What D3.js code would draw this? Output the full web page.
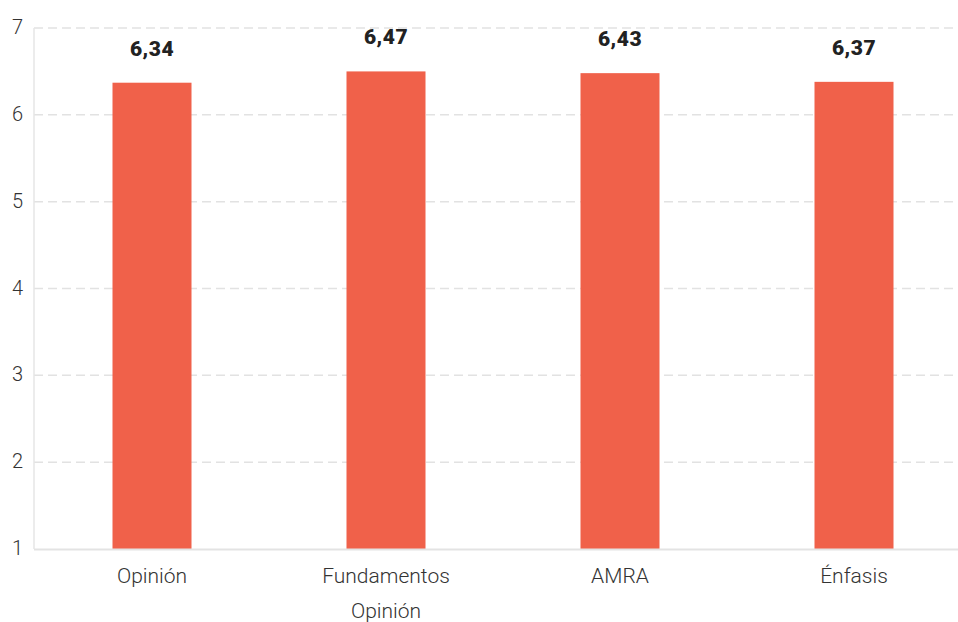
<!DOCTYPE html>
<html>
<head>
<meta charset="utf-8">
<script src="https://cdn.jsdelivr.net/npm/d3@7"></script>
<style>
	body { margin: 0; background: #fff; }
	svg { display: block; }
</style>
</head>
<body>
<svg id="chart" width="958" height="622"></svg>
<script>
// data
const categories = [['Opinión'], ['Fundamentos', 'Opinión'], ['AMRA'], ['Énfasis']];
const barValues = [6.37, 6.50, 6.48, 6.38];
const valueLabels = ['6,34', '6,47', '6,43', '6,37'];
const yTicks = [1, 2, 3, 4, 5, 6, 7];

const width = 958;
const height = 622;

const svg = d3.select('#chart');

// X axis
let x = d3.scaleBand()
	.domain(categories.map((d, i) => i))
	.range([35, 971])
	.paddingInner(0.6624)
	.paddingOuter(0.3312);

// Y axis
let y = d3.scaleLinear()
	.domain([1, 7])
	.range([549, 28]);

// grid
svg.append('g')
	.selectAll('line')
	.data(yTicks.filter(d => d > 1))
	.enter()
	.append('line')
	.attr('x1', 34)
	.attr('x2', width)
	.attr('y1', d => y(d))
	.attr('y2', d => y(d))
	.attr('stroke', '#e2e2e2')
	.attr('stroke-width', 1.5)
	.attr('stroke-dasharray', '9,5');

// axis lines
svg.append('line')
	.attr('x1', 34).attr('x2', 34)
	.attr('y1', y(7)).attr('y2', y(1))
	.attr('stroke', '#e6e6e6')
	.attr('stroke-width', 1.5);

svg.append('g')
	.selectAll('text')
	.data(yTicks)
	.enter()
	.append('text')
	.attr('x', 23)
	.attr('y', d => y(d) - 1)
	.attr('dy', '0.35em')
	.attr('text-anchor', 'end')
	.attr('font-family', 'Roboto')
	.attr('font-weight', 300)
	.attr('font-size', 20)
	.attr('fill', '#333')
	.text(d => d);

// bars
svg.append('g')
	.selectAll('rect')
	.data(barValues)
	.enter()
	.append('rect')
	.attr('x', (d, i) => x(i))
	.attr('y', d => y(d))
	.attr('width', x.bandwidth())
	.attr('height', d => y(1) - y(d))
	.attr('fill', '#f0614a');

svg.append('line')
	.attr('x1', 34).attr('x2', width)
	.attr('y1', y(1) + 0.5).attr('y2', y(1) + 0.5)
	.attr('stroke', '#e3e3e3')
	.attr('stroke-width', 2);

// value labels
svg.append('g')
	.selectAll('text')
	.data(valueLabels)
	.enter()
	.append('text')
	.attr('x', (d, i) => x(i) + x.bandwidth() / 2)
	.attr('y', (d, i) => y(barValues[i]) - 27)
	.attr('text-anchor', 'middle')
	.attr('font-family', 'Roboto')
	.attr('font-weight', 900)
	.attr('font-size', 21)
	.attr('letter-spacing', 0.5)
	.attr('fill', '#222')
	.text(d => d);

// category labels
let cats = svg.append('g')
	.selectAll('text')
	.data(categories)
	.enter()
	.append('text')
	.attr('x', (d, i) => x(i) + x.bandwidth() / 2)
	.attr('y', 583)
	.attr('text-anchor', 'middle')
	.attr('font-family', 'Roboto')
	.attr('font-weight', 300)
	.attr('font-size', 21)
	.attr('fill', '#333');

cats.selectAll('tspan')
	.data(d => d)
	.enter()
	.append('tspan')
	.attr('x', function() { return d3.select(this.parentNode).attr('x'); })
	.attr('dy', (d, j) => j ? 35 : 0)
	.text(d => d);
</script>
</body>
</html>
